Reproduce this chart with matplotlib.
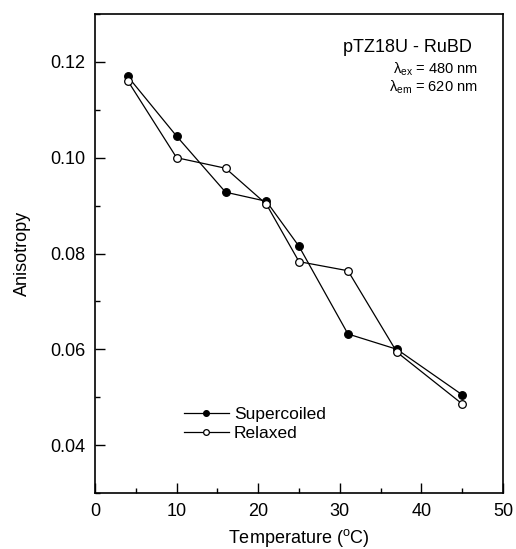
import matplotlib
matplotlib.use("Agg")
import matplotlib.pyplot as plt
from matplotlib.ticker import MultipleLocator

plt.rcParams['font.family'] = ['Liberation Sans', 'DejaVu Sans']
plt.rcParams['mathtext.fontset'] = 'custom'
plt.rcParams['mathtext.rm'] = 'Liberation Sans'
plt.rcParams['mathtext.it'] = 'Liberation Sans:italic'

temperature = [4, 10, 16, 21, 25, 31, 37, 45]
supercoiled = [0.1170, 0.1045, 0.0928, 0.0909, 0.0815, 0.0632, 0.0600, 0.0505]
relaxed = [0.1161, 0.1000, 0.0978, 0.0903, 0.0783, 0.0764, 0.0594, 0.0486]

fig = plt.figure(figsize=(5.16, 5.49), dpi=100)
ax = fig.add_axes([95/516, 1-493/549, 408/516, 479/549])

ax.plot(temperature, supercoiled, '-o', color='black', lw=0.9, ms=5.5,
        mfc='black', mec='black', mew=0.9, label='Supercoiled')
ax.plot(temperature, relaxed, '-o', color='black', lw=0.9, ms=5.5,
        mfc='white', mec='black', mew=0.9, label='Relaxed')

ax.set_xlim(0, 50)
ax.set_ylim(0.03, 0.13)
ax.xaxis.set_major_locator(MultipleLocator(10))
ax.xaxis.set_minor_locator(MultipleLocator(5))
ax.yaxis.set_major_locator(MultipleLocator(0.02))
ax.yaxis.set_minor_locator(MultipleLocator(0.01))
ax.tick_params(which='both', direction='in', top=False, right=False,
               labelsize=13, width=1)
ax.tick_params(which='major', length=7, pad=7)
ax.tick_params(which='minor', length=3.5)
ax.set_yticks([0.04, 0.06, 0.08, 0.10, 0.12])
ax.set_yticklabels(['0.04', '0.06', '0.08', '0.10', '0.12'])
for s in ax.spines.values():
    s.set_linewidth(1.2)

ax.set_xlabel('Temperature ($^{\\rm o}$C)', fontsize=13, labelpad=5)
ax.set_ylabel('Anisotropy', fontsize=13, labelpad=14)

ax.text(472/516, 1-52/549, 'pTZ18U - RuBD', transform=fig.transFigure,
        ha='right', va='baseline', fontsize=13)
ax.text(478/516, 1-74/549, 'λ$_{\\rm ex}$ = 480 nm', transform=fig.transFigure,
        ha='right', va='baseline', fontsize=10.5)
ax.text(478/516, 1-92/549, 'λ$_{\\rm em}$ = 620 nm', transform=fig.transFigure,
        ha='right', va='baseline', fontsize=10.5)

ax.legend(loc='upper left', bbox_to_anchor=(175/516, 1-398/549),
          bbox_transform=fig.transFigure, frameon=False, fontsize=12.5,
          handlelength=2.6, handletextpad=0.3, labelspacing=0.25,
          markerscale=0.75, borderpad=0)

fig.savefig('out.png', dpi=100)
